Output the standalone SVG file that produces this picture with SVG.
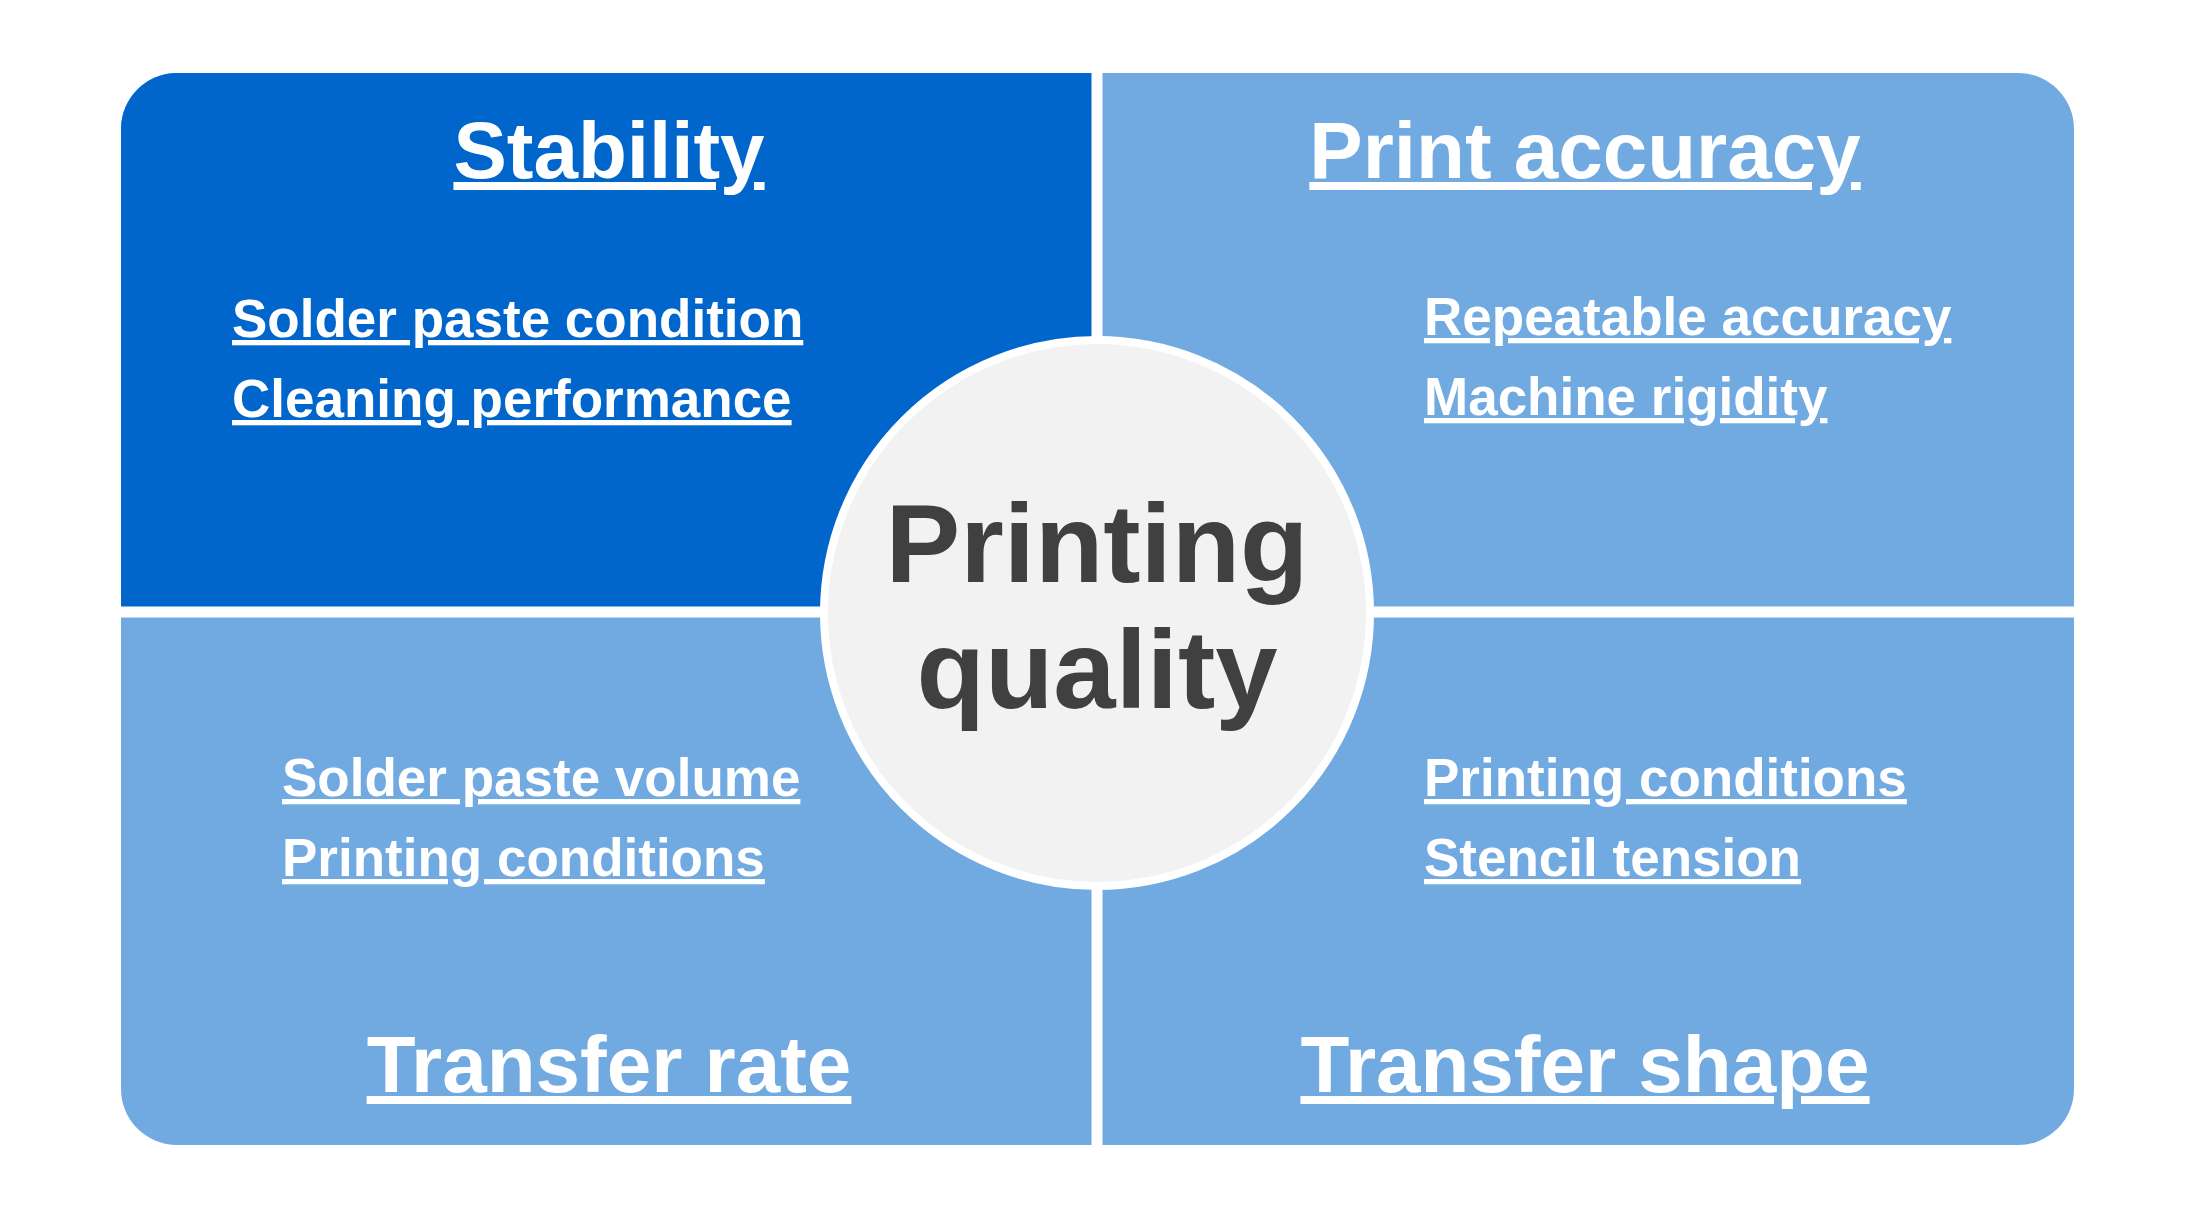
<svg xmlns="http://www.w3.org/2000/svg" width="2200" height="1231" viewBox="0 0 2200 1231">
<style>
.t{font-family:"Liberation Sans",Arial,sans-serif;font-weight:bold;fill:#fff;text-decoration:underline}
.h{font-size:80px;text-anchor:middle}
.s{font-size:53px}
.c{font-family:"Liberation Sans",Arial,sans-serif;font-weight:bold;fill:#404040;font-size:112px;text-anchor:middle}
</style>
<rect width="2200" height="1231" fill="#fff"/>
<g id="quadrants">
<rect x="121" y="73" width="1953" height="1072" rx="56" fill="#71A9E1"/>
<path d="M177,73 H1097 V610 H121 V129 A56,56 0 0 1 177,73 Z" fill="#0066CC"/>
<line x1="1097" y1="73" x2="1097" y2="1145" stroke="#fff" stroke-width="11"/>
<line x1="121" y1="612" x2="2074" y2="612" stroke="#fff" stroke-width="11"/>
</g>
<g id="stability"><text class="t h" x="609" y="178">Stability</text>
<text class="t s" x="232" y="337">Solder paste condition</text>
<text class="t s" x="232" y="417">Cleaning performance</text></g>
<g id="accuracy"><text class="t h" x="1585" y="178">Print accuracy</text>
<text class="t s" x="1424" y="335">Repeatable accuracy</text>
<text class="t s" x="1424" y="415">Machine rigidity</text></g>
<g id="rate"><text class="t h" x="609" y="1092">Transfer rate</text>
<text class="t s" x="282" y="796">Solder paste volume</text>
<text class="t s" x="282" y="876">Printing conditions</text></g>
<g id="shape"><text class="t h" x="1585" y="1092">Transfer shape</text>
<text class="t s" x="1424" y="796">Printing conditions</text>
<text class="t s" x="1424" y="876">Stencil tension</text></g>
<g id="center"><circle cx="1097" cy="613" r="273" fill="#F2F2F2" stroke="#fff" stroke-width="8"/>
<text class="c" x="1097" y="582">Printing</text>
<text class="c" x="1097" y="708">quality</text></g>
</svg>
